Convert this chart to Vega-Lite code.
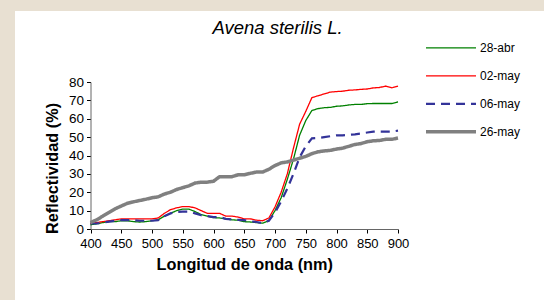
{
  "$schema": "https://vega.github.io/schema/vega-lite/v6.json",
  "autosize": "none",
  "width": 529,
  "height": 289,
  "padding": {"left": 15, "top": 11, "right": 0, "bottom": 0},
  "background": "#e8e0d2",
  "config": {
    "view": {"fill": "white", "stroke": null},
    "font": "Liberation Sans"
  },
  "title": {
    "text": "Avena sterilis L.",
    "fontStyle": "italic",
    "fontWeight": "normal",
    "fontSize": 18.5,
    "color": "#000000",
    "anchor": "middle",
    "offset": 0,
    "dx": -2,
    "dy": 26
  },
  "datasets": {
    "d": [
      {"wl":400,"s":"28-abr","v":2.3},{"wl":410,"s":"28-abr","v":2.8},{"wl":420,"s":"28-abr","v":3.5},{"wl":430,"s":"28-abr","v":4},{"wl":440,"s":"28-abr","v":4},{"wl":450,"s":"28-abr","v":4.5},{"wl":460,"s":"28-abr","v":4.5},{"wl":470,"s":"28-abr","v":4},{"wl":480,"s":"28-abr","v":3.8},{"wl":490,"s":"28-abr","v":4},{"wl":500,"s":"28-abr","v":4.5},{"wl":510,"s":"28-abr","v":5},{"wl":520,"s":"28-abr","v":7},{"wl":530,"s":"28-abr","v":8.5},{"wl":540,"s":"28-abr","v":10},{"wl":550,"s":"28-abr","v":10.8},{"wl":560,"s":"28-abr","v":10.8},{"wl":570,"s":"28-abr","v":9.5},{"wl":580,"s":"28-abr","v":7.8},{"wl":590,"s":"28-abr","v":7},{"wl":600,"s":"28-abr","v":6.2},{"wl":610,"s":"28-abr","v":6},{"wl":620,"s":"28-abr","v":5.5},{"wl":630,"s":"28-abr","v":5},{"wl":640,"s":"28-abr","v":4.8},{"wl":650,"s":"28-abr","v":4},{"wl":660,"s":"28-abr","v":3.8},{"wl":670,"s":"28-abr","v":3.5},{"wl":680,"s":"28-abr","v":3.2},{"wl":690,"s":"28-abr","v":4.5},{"wl":700,"s":"28-abr","v":10},{"wl":710,"s":"28-abr","v":17},{"wl":720,"s":"28-abr","v":27},{"wl":730,"s":"28-abr","v":38},{"wl":740,"s":"28-abr","v":51},{"wl":750,"s":"28-abr","v":59},{"wl":760,"s":"28-abr","v":64.5},{"wl":770,"s":"28-abr","v":65.5},{"wl":780,"s":"28-abr","v":66},{"wl":790,"s":"28-abr","v":66.2},{"wl":800,"s":"28-abr","v":66.8},{"wl":810,"s":"28-abr","v":67},{"wl":820,"s":"28-abr","v":67.5},{"wl":830,"s":"28-abr","v":67.8},{"wl":840,"s":"28-abr","v":67.8},{"wl":850,"s":"28-abr","v":68.2},{"wl":860,"s":"28-abr","v":68.3},{"wl":870,"s":"28-abr","v":68.3},{"wl":880,"s":"28-abr","v":68.3},{"wl":890,"s":"28-abr","v":68.3},{"wl":900,"s":"28-abr","v":69.2},
      {"wl":400,"s":"02-may","v":3},{"wl":410,"s":"02-may","v":3.5},{"wl":420,"s":"02-may","v":4},{"wl":430,"s":"02-may","v":4.5},{"wl":440,"s":"02-may","v":5},{"wl":450,"s":"02-may","v":5.5},{"wl":460,"s":"02-may","v":5.5},{"wl":470,"s":"02-may","v":5.5},{"wl":480,"s":"02-may","v":5.5},{"wl":490,"s":"02-may","v":5.5},{"wl":500,"s":"02-may","v":5.5},{"wl":510,"s":"02-may","v":6},{"wl":520,"s":"02-may","v":8.5},{"wl":530,"s":"02-may","v":10.5},{"wl":540,"s":"02-may","v":11.5},{"wl":550,"s":"02-may","v":12.2},{"wl":560,"s":"02-may","v":12.2},{"wl":570,"s":"02-may","v":11.5},{"wl":580,"s":"02-may","v":10},{"wl":590,"s":"02-may","v":8.5},{"wl":600,"s":"02-may","v":8.5},{"wl":610,"s":"02-may","v":8.5},{"wl":620,"s":"02-may","v":7},{"wl":630,"s":"02-may","v":7},{"wl":640,"s":"02-may","v":6.5},{"wl":650,"s":"02-may","v":5.5},{"wl":660,"s":"02-may","v":5.5},{"wl":670,"s":"02-may","v":4.8},{"wl":680,"s":"02-may","v":4.5},{"wl":690,"s":"02-may","v":6},{"wl":700,"s":"02-may","v":12},{"wl":710,"s":"02-may","v":20},{"wl":720,"s":"02-may","v":30},{"wl":730,"s":"02-may","v":44},{"wl":740,"s":"02-may","v":57},{"wl":750,"s":"02-may","v":64},{"wl":760,"s":"02-may","v":71.5},{"wl":770,"s":"02-may","v":72.5},{"wl":780,"s":"02-may","v":73.5},{"wl":790,"s":"02-may","v":74.5},{"wl":800,"s":"02-may","v":74.8},{"wl":810,"s":"02-may","v":75},{"wl":820,"s":"02-may","v":75.5},{"wl":830,"s":"02-may","v":75.7},{"wl":840,"s":"02-may","v":76},{"wl":850,"s":"02-may","v":76.2},{"wl":860,"s":"02-may","v":76.8},{"wl":870,"s":"02-may","v":77},{"wl":880,"s":"02-may","v":77.8},{"wl":890,"s":"02-may","v":76.8},{"wl":900,"s":"02-may","v":77.8},
      {"wl":400,"s":"06-may","v":3},{"wl":410,"s":"06-may","v":3},{"wl":420,"s":"06-may","v":3.5},{"wl":430,"s":"06-may","v":4},{"wl":440,"s":"06-may","v":4.5},{"wl":450,"s":"06-may","v":4.8},{"wl":460,"s":"06-may","v":4.8},{"wl":470,"s":"06-may","v":4.8},{"wl":480,"s":"06-may","v":4.5},{"wl":490,"s":"06-may","v":4.5},{"wl":500,"s":"06-may","v":4.5},{"wl":510,"s":"06-may","v":4.8},{"wl":520,"s":"06-may","v":7},{"wl":530,"s":"06-may","v":8.5},{"wl":540,"s":"06-may","v":9.3},{"wl":550,"s":"06-may","v":9.5},{"wl":560,"s":"06-may","v":9.5},{"wl":570,"s":"06-may","v":8.5},{"wl":580,"s":"06-may","v":7.5},{"wl":590,"s":"06-may","v":7},{"wl":600,"s":"06-may","v":6.5},{"wl":610,"s":"06-may","v":6.5},{"wl":620,"s":"06-may","v":5.5},{"wl":630,"s":"06-may","v":5.2},{"wl":640,"s":"06-may","v":5},{"wl":650,"s":"06-may","v":4.8},{"wl":660,"s":"06-may","v":4.2},{"wl":670,"s":"06-may","v":3.8},{"wl":680,"s":"06-may","v":3.2},{"wl":690,"s":"06-may","v":4.5},{"wl":700,"s":"06-may","v":9},{"wl":710,"s":"06-may","v":15},{"wl":720,"s":"06-may","v":22},{"wl":730,"s":"06-may","v":30},{"wl":740,"s":"06-may","v":39},{"wl":750,"s":"06-may","v":45},{"wl":760,"s":"06-may","v":49.3},{"wl":770,"s":"06-may","v":49.5},{"wl":780,"s":"06-may","v":50},{"wl":790,"s":"06-may","v":50.5},{"wl":800,"s":"06-may","v":51},{"wl":810,"s":"06-may","v":51},{"wl":820,"s":"06-may","v":51.3},{"wl":830,"s":"06-may","v":51.5},{"wl":840,"s":"06-may","v":52},{"wl":850,"s":"06-may","v":52.5},{"wl":860,"s":"06-may","v":53},{"wl":870,"s":"06-may","v":53},{"wl":880,"s":"06-may","v":53},{"wl":890,"s":"06-may","v":53},{"wl":900,"s":"06-may","v":53.5},
      {"wl":400,"s":"26-may","v":3.5},{"wl":410,"s":"26-may","v":5},{"wl":420,"s":"26-may","v":7},{"wl":430,"s":"26-may","v":9},{"wl":440,"s":"26-may","v":11},{"wl":450,"s":"26-may","v":12.5},{"wl":460,"s":"26-may","v":14},{"wl":470,"s":"26-may","v":14.8},{"wl":480,"s":"26-may","v":15.5},{"wl":490,"s":"26-may","v":16.2},{"wl":500,"s":"26-may","v":17},{"wl":510,"s":"26-may","v":17.5},{"wl":520,"s":"26-may","v":19},{"wl":530,"s":"26-may","v":20},{"wl":540,"s":"26-may","v":21.5},{"wl":550,"s":"26-may","v":22.5},{"wl":560,"s":"26-may","v":23.5},{"wl":570,"s":"26-may","v":25},{"wl":580,"s":"26-may","v":25.5},{"wl":590,"s":"26-may","v":25.5},{"wl":600,"s":"26-may","v":26},{"wl":610,"s":"26-may","v":28.5},{"wl":620,"s":"26-may","v":28.5},{"wl":630,"s":"26-may","v":28.5},{"wl":640,"s":"26-may","v":29.5},{"wl":650,"s":"26-may","v":29.5},{"wl":660,"s":"26-may","v":30.3},{"wl":670,"s":"26-may","v":31},{"wl":680,"s":"26-may","v":31},{"wl":690,"s":"26-may","v":32.5},{"wl":700,"s":"26-may","v":34.5},{"wl":710,"s":"26-may","v":36},{"wl":720,"s":"26-may","v":36.5},{"wl":730,"s":"26-may","v":37.5},{"wl":740,"s":"26-may","v":38.5},{"wl":750,"s":"26-may","v":39.5},{"wl":760,"s":"26-may","v":41},{"wl":770,"s":"26-may","v":42},{"wl":780,"s":"26-may","v":42.5},{"wl":790,"s":"26-may","v":42.8},{"wl":800,"s":"26-may","v":43.5},{"wl":810,"s":"26-may","v":44},{"wl":820,"s":"26-may","v":45},{"wl":830,"s":"26-may","v":46},{"wl":840,"s":"26-may","v":46.5},{"wl":850,"s":"26-may","v":47.5},{"wl":860,"s":"26-may","v":48},{"wl":870,"s":"26-may","v":48.2},{"wl":880,"s":"26-may","v":48.8},{"wl":890,"s":"26-may","v":48.8},{"wl":900,"s":"26-may","v":49.5}
    ]
  },
  "data": {"name": "d"},
  "mark": {"type": "line", "clip": false},
  "encoding": {
    "x": {
      "field": "wl", "type": "quantitative",
      "scale": {"domain": [400, 900], "range": [75.5, 383], "nice": false, "zero": false},
      "axis": {
        "title": "Longitud de onda (nm)",
        "values": [400,450,500,550,600,650,700,750,800,850,900],
        "offset": -71,
        "grid": false,
        "domainColor": "#666666",
        "tickColor": "#000000",
        "tickSize": 4,
        "labelFontSize": 13,
        "labelColor": "#000000",
        "labelPadding": 4,
        "labelFlush": false,
        "labelOverlap": false,
        "titleFontSize": 16.3,
        "titleFontWeight": "bold",
        "titleColor": "#000000",
        "titlePadding": 6
      }
    },
    "y": {
      "field": "v", "type": "quantitative",
      "scale": {"domain": [0, 80], "range": [218, 71], "nice": false},
      "axis": {
        "title": "Reflectividad (%)",
        "values": [0,10,20,30,40,50,60,70,80],
        "offset": -75.5,
        "grid": false,
        "domainColor": "#666666",
        "tickColor": "#000000",
        "tickSize": 4,
        "labelFontSize": 13.5,
        "labelColor": "#000000",
        "labelPadding": 3,
        "labelFlush": false,
        "labelOverlap": false,
        "titleFontSize": 16.3,
        "titleFontWeight": "bold",
        "titleColor": "#000000",
        "titlePadding": 8,
        "titleY": 157
      }
    },
    "color": {
      "field": "s", "type": "nominal",
      "scale": {"domain": ["28-abr","02-may","06-may","26-may"], "range": ["#008000","#ff0000","#333399","#808080"]},
      "legend": {
        "title": null,
        "orient": "none",
        "legendX": 409,
        "legendY": 23,
        "symbolType": "stroke",
        "symbolSize": 2500,
        "clipHeight": 27.7,
        "rowPadding": 0,
        "labelFontSize": 12,
        "labelColor": "#000000",
        "labelOffset": 2
      }
    },
    "strokeDash": {
      "field": "s", "type": "nominal",
      "scale": {"domain": ["28-abr","02-may","06-may","26-may"], "range": [[1,0],[1,0],[9,6],[1,0]]},
      "legend": {
        "title": null,
        "orient": "none",
        "legendX": 409,
        "legendY": 23,
        "symbolType": "stroke",
        "symbolSize": 2500,
        "clipHeight": 27.7,
        "rowPadding": 0,
        "labelFontSize": 12,
        "labelColor": "#000000",
        "labelOffset": 2
      }
    },
    "strokeWidth": {
      "field": "s", "type": "ordinal",
      "scale": {"type": "ordinal", "domain": ["28-abr","02-may","06-may","26-may"], "range": [1.3,1.3,2.2,3.5]},
      "legend": {
        "title": null,
        "orient": "none",
        "legendX": 409,
        "legendY": 23,
        "symbolType": "stroke",
        "symbolSize": 2500,
        "clipHeight": 27.7,
        "rowPadding": 0,
        "labelFontSize": 12,
        "labelColor": "#000000",
        "labelOffset": 2
      }
    },
    "order": {"field": "wl", "type": "quantitative"}
  }
}
